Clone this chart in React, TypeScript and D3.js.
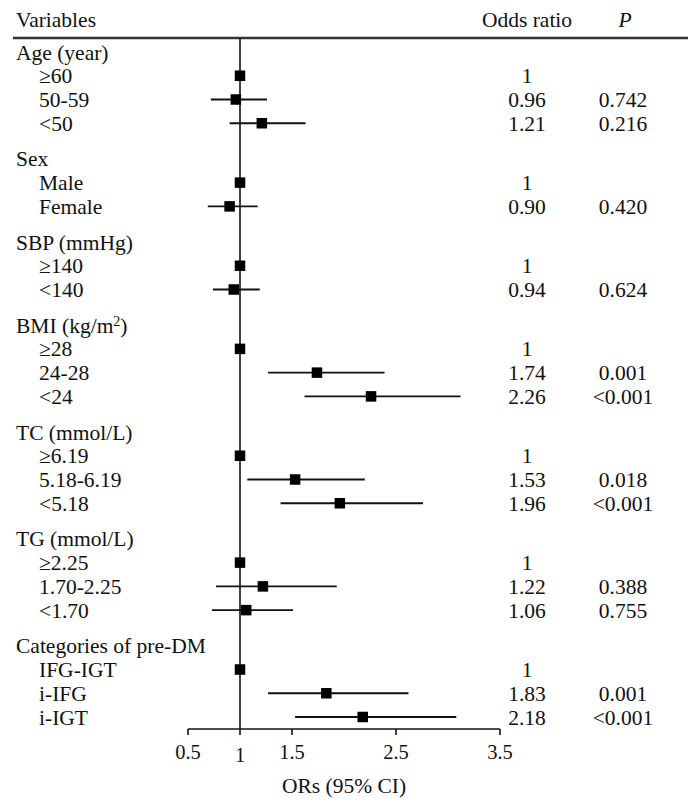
import React from "react";
import * as d3 from "d3";

const groupNames = [
  "Age (year)",
  "Sex",
  "SBP (mmHg)",
  "BMI (kg/m|2|)",
  "TC (mmol/L)",
  "TG (mmol/L)",
  "Categories of pre-DM",
];
const groupSizes = [3, 2, 2, 3, 3, 3, 3];

const itemLabels = [
  "≥60", "50-59", "<50",
  "Male", "Female",
  "≥140", "<140",
  "≥28", "24-28", "<24",
  "≥6.19", "5.18-6.19", "<5.18",
  "≥2.25", "1.70-2.25", "<1.70",
  "IFG-IGT", "i-IFG", "i-IGT",
];
const orValues = [
  1, 0.96, 1.21,
  1, 0.9,
  1, 0.94,
  1, 1.74, 2.26,
  1, 1.53, 1.96,
  1, 1.22, 1.06,
  1, 1.83, 2.18,
];
const ciLower = [
  1, 0.72, 0.9,
  1, 0.69,
  1, 0.74,
  1, 1.27, 1.62,
  1, 1.07, 1.39,
  1, 0.77, 0.73,
  1, 1.27, 1.53,
];
const ciUpper = [
  1, 1.26, 1.63,
  1, 1.17,
  1, 1.19,
  1, 2.39, 3.12,
  1, 2.2, 2.76,
  1, 1.93, 1.51,
  1, 2.62, 3.08,
];
const orLabels = [
  "1", "0.96", "1.21",
  "1", "0.90",
  "1", "0.94",
  "1", "1.74", "2.26",
  "1", "1.53", "1.96",
  "1", "1.22", "1.06",
  "1", "1.83", "2.18",
];
const pLabels = [
  "", "0.742", "0.216",
  "", "0.420",
  "", "0.624",
  "", "0.001", "<0.001",
  "", "0.018", "<0.001",
  "", "0.388", "0.755",
  "", "0.001", "<0.001",
];
const axisTicks = [0.5, 1, 1.5, 2.5, 3.5];

const W = 697;
const H = 810;
const FONT = "'Liberation Serif', 'Times New Roman', serif";

export default function App() {
  const x = d3.scaleLinear().domain([0.5, 3.5]).range([188, 500]);
  const y = d3.scaleLinear().domain([0, 28]).range([52, 717]);

  const headerSlots: number[] = [];
  const itemSlots: number[] = [];
  let s = 0;
  groupSizes.forEach((n) => {
    headerSlots.push(s);
    for (let i = 1; i <= n; i++) itemSlots.push(s + i);
    s += n + 1.5;
  });

  const axisY = 729;
  const fs = 21.5;

  const renderGroupName = (name: string) => {
    const parts = name.split("|");
    if (parts.length === 1) return name;
    return (
      <>
        {parts[0]}
        <tspan baselineShift="super" fontSize={14}>{parts[1]}</tspan>
        {parts[2]}
      </>
    );
  };

  return (
    <svg
      width={W}
      height={H}
      style={{ position: "absolute", left: 0, top: 0, background: "#fff" }}
      fontFamily={FONT}
      fontSize={fs}
      fill="#111"
    >
      <text x={16} y={27}>Variables</text>
      <text x={527} y={27} textAnchor="middle">Odds ratio</text>
      <text x={625} y={27} textAnchor="middle" fontStyle="italic">P</text>
      <line x1={13} x2={688} y1={38} y2={38} stroke="#333" strokeWidth={2.5} />

      <line x1={x(1)} x2={x(1)} y1={38} y2={axisY} stroke="#111" strokeWidth={1.6} />

      {groupNames.map((g, i) => (
        <text key={"g" + i} x={16} y={y(headerSlots[i])} dy="0.35em">
          {renderGroupName(g)}
        </text>
      ))}

      {itemLabels.map((lab, i) => {
        const yy = y(itemSlots[i]);
        return (
          <g key={"i" + i}>
            <text x={39} y={yy} dy="0.35em">{lab}</text>
            {ciLower[i] !== ciUpper[i] && (
              <line
                x1={x(ciLower[i])}
                x2={x(ciUpper[i])}
                y1={yy}
                y2={yy}
                stroke="#111"
                strokeWidth={1.8}
              />
            )}
            <rect
              x={x(orValues[i]) - 5.25}
              y={yy - 5.25}
              width={10.5}
              height={10.5}
              fill="#000"
            />
            <text x={527} y={yy} dy="0.35em" textAnchor="middle">{orLabels[i]}</text>
            {pLabels[i] && (
              <text x={623} y={yy} dy="0.35em" textAnchor="middle">{pLabels[i]}</text>
            )}
          </g>
        );
      })}

      <line x1={x(0.5)} x2={x(3.5)} y1={axisY} y2={axisY} stroke="#111" strokeWidth={1.6} />
      {axisTicks.map((t) => (
        <g key={"t" + t}>
          <line x1={x(t)} x2={x(t)} y1={axisY} y2={axisY + 6} stroke="#111" strokeWidth={1.6} />
          <text
            x={x(t)}
            y={t === 1 ? 755 : 752}
            dy="0.35em"
            textAnchor="middle"
            fontSize={20.5}
          >
            {t}
          </text>
        </g>
      ))}
      <text x={(x(0.5) + x(3.5)) / 2} y={785} dy="0.35em" textAnchor="middle">
        ORs (95% CI)
      </text>
    </svg>
  );
}
